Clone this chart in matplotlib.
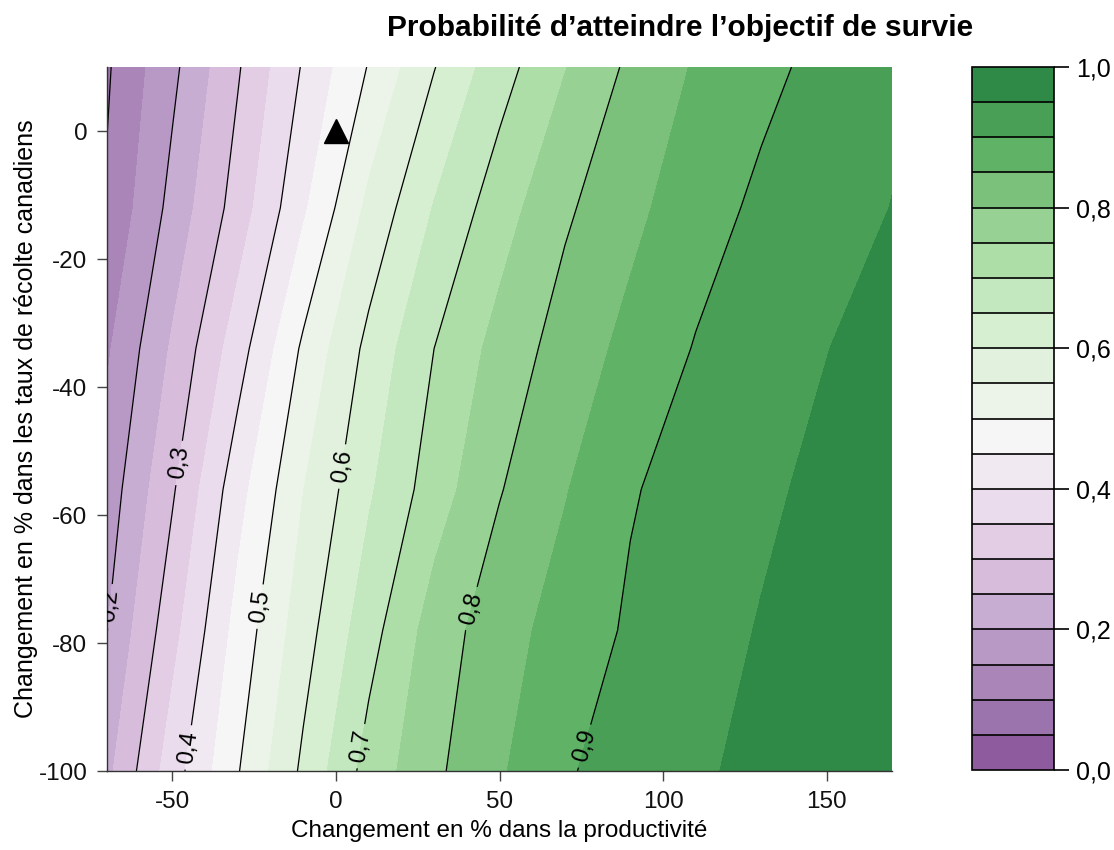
import numpy as np
import matplotlib
matplotlib.use("Agg")
import matplotlib.pyplot as plt

plt.rcParams['font.family'] = ['Liberation Sans', 'DejaVu Sans']
plt.rcParams['axes.unicode_minus'] = False

# ---- data ----
x_prod = [-70, -50, -30, -10, 10, 30, 50, 70, 90, 110, 130, 150, 170]
y_harv = [-100, -78, -56, -34, -12, 10]

prob_m100 = [0.237, 0.377, 0.497, 0.610, 0.720, 0.790, 0.844, 0.895, 0.921, 0.943, 0.962, 0.975, 0.985]
prob_m78 = [0.199, 0.333, 0.468, 0.578, 0.680, 0.773, 0.829, 0.871, 0.907, 0.930, 0.953, 0.968, 0.980]
prob_m56 = [0.172, 0.294, 0.431, 0.549, 0.643, 0.725, 0.797, 0.847, 0.896, 0.920, 0.941, 0.962, 0.975]
prob_m34 = [0.143, 0.257, 0.377, 0.509, 0.614, 0.700, 0.768, 0.822, 0.864, 0.903, 0.927, 0.949, 0.970]
prob_m12 = [0.106, 0.216, 0.322, 0.442, 0.562, 0.653, 0.727, 0.792, 0.837, 0.878, 0.910, 0.930, 0.951]
prob_p10 = [0.094, 0.188, 0.295, 0.405, 0.503, 0.598, 0.679, 0.748, 0.810, 0.855, 0.887, 0.915, 0.940]

fill_levels = [0.00, 0.05, 0.10, 0.15, 0.20, 0.25, 0.30, 0.35, 0.40, 0.45, 0.50,
               0.55, 0.60, 0.65, 0.70, 0.75, 0.80, 0.85, 0.90, 0.95, 1.00]
unlabeled_levels = [0.1]
label_levels = [0.2, 0.3, 0.4, 0.5, 0.6, 0.7, 0.8, 0.9]
label_pos = [(-68.4, -74.3), (-47.5, -51.9), (-45.4, -96.3), (-23.4, -74.3),
             (1.6, -52.4), (6.3, -96.0), (39.1, -74.3), (73.9, -95.8)]
current_point = (0, 0)

x_ticks = [-50, 0, 50, 100, 150]
y_ticks = [0, -20, -40, -60, -80, -100]
cb_ticks = [0.0, 0.2, 0.4, 0.6, 0.8, 1.0]

band_colors = ['#8E5B9F', '#9B73AD', '#A985B8', '#B899C6', '#C8ADD2',
               '#D7BCDC', '#E2CDE4', '#EADCEC', '#F1E9F1', '#F6F6F6',
               '#ECF3E9', '#E2F1DD', '#D7EFD1', '#C3E7BF', '#AEDEA8',
               '#97D193', '#7BC17C', '#5FB266', '#4A9F56', '#2F8A47']

Z = np.array([prob_m100, prob_m78, prob_m56, prob_m34, prob_m12, prob_p10])
X, Y = np.meshgrid(x_prod, y_harv)

def fmt(v):
    return f"{v:.1f}".replace('.', ',')

fig = plt.figure(figsize=(11.14, 8.5), dpi=100)
W, H = 1114, 850
ax = fig.add_axes([107 / W, (H - 771) / H, (892 - 107) / W, (771 - 67) / H])
cax = fig.add_axes([972 / W, (H - 770) / H, (1054 - 972) / W, (770 - 67) / H])

cf = ax.contourf(X, Y, Z, levels=fill_levels, colors=band_colors)
ax.contour(X, Y, Z, levels=unlabeled_levels, colors='black', linewidths=0.9)
cs = ax.contour(X, Y, Z, levels=label_levels, colors='black', linewidths=0.9)
ax.clabel(cs, manual=label_pos, inline=True, fmt=fmt, fontsize=17, inline_spacing=6)

ax.plot([current_point[0]], [current_point[1]], marker='^', color='black',
        markersize=17, linestyle='none')

ax.set_xlim(-70, 170)
ax.set_ylim(-100, 10)
ax.set_xticks(x_ticks)
ax.set_xticklabels([str(t) for t in x_ticks])
ax.set_yticks(y_ticks)
ax.set_yticklabels([str(t) for t in y_ticks])
ax.tick_params(direction='out', length=7.2, width=1, labelsize=17.5, color='#444444',
               labelcolor='#111111')
ax.tick_params(axis='y', pad=7)
ax.tick_params(axis='x', pad=7)
for s in ['top', 'right']:
    ax.spines[s].set_visible(False)
for s in ['left', 'bottom']:
    ax.spines[s].set_linewidth(1.0)
    ax.spines[s].set_color('#333333')

ax.set_xlabel('Changement en % dans la productivité', fontsize=17.5, labelpad=5)
ax.set_ylabel('Changement en % dans les taux de récolte canadiens', fontsize=18, labelpad=0)

cb = fig.colorbar(cf, cax=cax, drawedges=True)
cb.set_ticks(cb_ticks)
cb.set_ticklabels([fmt(t) for t in cb_ticks])
cb.ax.tick_params(direction='out', length=11, width=1.2, labelsize=18, pad=5)
cb.outline.set_linewidth(1.2)
cb.dividers.set_linewidth(1.2)

fig.text(680 / W, 1 - 28 / H, 'Probabilité d’atteindre l’objectif de survie',
         ha='center', va='center', fontsize=21.5, fontweight='bold')

fig.savefig('out.png', dpi=100)
